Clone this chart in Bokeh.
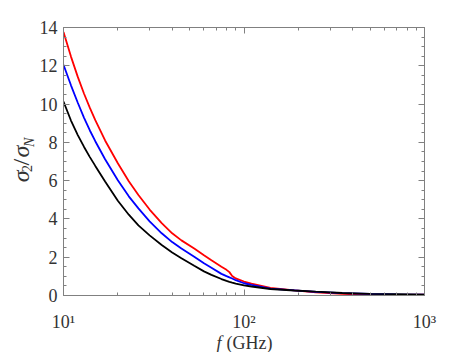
import math
from bokeh.plotting import figure
from bokeh.layouts import row, column
from bokeh.models import Range1d, FixedTicker, LogAxis, LinearAxis, SingleIntervalTicker
from bokeh.core.properties import value
from bokeh.embed import file_html
from bokeh.resources import INLINE

# ---- data ----
freq_ghz = [10, 11, 12, 13, 14, 15, 17, 20, 23, 26, 30, 35, 40, 45, 53, 60, 66, 75, 80, 83,
            86, 90, 100, 110, 140, 190, 250, 350, 500, 700, 1000]
ratio_red = [13.76, 12.48, 11.42, 10.54, 9.80, 9.16, 8.10, 6.91, 5.97, 5.25, 4.49, 3.78, 3.25, 2.88,
             2.45, 2.10, 1.84, 1.50, 1.34, 1.22, 1.02, 0.89, 0.73, 0.62, 0.40, 0.27, 0.17, 0.08,
             0.04, 0.03, 0.04]
ratio_blue = [12.05, 10.98, 10.07, 9.28, 8.62, 8.06, 7.12, 6.02, 5.18, 4.55, 3.87, 3.25, 2.79, 2.45,
              2.03, 1.68, 1.45, 1.13, 1.01, 0.95, 0.89, 0.80, 0.64, 0.55, 0.36, 0.27, 0.19, 0.12,
              0.08, 0.06, 0.05]
ratio_black = [10.13, 9.14, 8.38, 7.76, 7.23, 6.77, 5.96, 4.95, 4.22, 3.66, 3.14, 2.64, 2.25, 1.95,
               1.55, 1.26, 1.08, 0.86, 0.76, 0.71, 0.67, 0.62, 0.53, 0.47, 0.34, 0.26, 0.20, 0.13,
               0.09, 0.07, 0.05]

x_major = [10, 100, 1000]
x_minor = [20, 30, 40, 50, 60, 70, 80, 90, 200, 300, 400, 500, 600, 700, 800, 900]
x_tick_labels = ["10\u00b9", "10\u00b2", "10\u00b3"]
y_min, y_max, y_step = 0, 14, 2

# y-axis title pieces (sigma_2 / sigma_N) and x-axis title pieces
ytitle_parts = ["\u03c3", "2", "/", "\u03c3", "N"]
xtitle_parts = ["f", "(GHz)"]

AX = "#808080"
TXT = "#333333"
FONT = "'Liberation Serif', serif"
FONT_NAME = "Liberation Serif"

W, H = 469, 352
YLAB_W = 36
XLAB_H = 18
MAIN_W, MAIN_H = W - YLAB_W, H - XLAB_H

p = figure(width=MAIN_W, height=MAIN_H, x_axis_type="log",
           x_range=Range1d(10, 1000), y_range=Range1d(y_min, y_max),
           output_backend="svg", toolbar_location=None,
           min_border_left=61 - YLAB_W, min_border_right=45, min_border_top=27,
           min_border_bottom=MAIN_H - 295)
p.outline_line_color = None
p.xgrid.grid_line_color = None
p.ygrid.grid_line_color = None
p.background_fill_color = "white"
p.border_fill_color = "white"


def style(ax, show_labels=True):
    ax.axis_line_color = AX
    ax.axis_line_width = 1
    ax.major_tick_line_color = AX
    ax.minor_tick_line_color = AX
    ax.major_tick_in = 6
    ax.major_tick_out = 0
    ax.minor_tick_in = 3
    ax.minor_tick_out = 0
    ax.major_label_text_font = FONT
    ax.major_label_text_color = TXT
    if show_labels:
        ax.major_label_text_font_size = "18px"
    else:
        ax.major_label_text_font_size = "1px"
        ax.major_label_text_alpha = 0


xb = p.xaxis[0]
xb.ticker = FixedTicker(ticks=x_major, minor_ticks=x_minor)
xb.major_label_overrides = {t: s for t, s in zip(x_major, x_tick_labels)}
style(xb)
xb.major_label_standoff = 16

yl = p.yaxis[0]
yl.ticker = SingleIntervalTicker(interval=y_step, num_minor_ticks=4)
style(yl)
yl.major_label_standoff = 6

xtop = LogAxis(ticker=FixedTicker(ticks=x_major, minor_ticks=x_minor))
style(xtop, False)
xtop.major_label_standoff = 0
p.add_layout(xtop, "above")

yr = LinearAxis(ticker=SingleIntervalTicker(interval=y_step, num_minor_ticks=4))
style(yr, False)
yr.major_label_standoff = 0
p.add_layout(yr, "right")

p.line(freq_ghz, ratio_red, line_color="#ff0000", line_width=1.8)
p.line(freq_ghz, ratio_blue, line_color="#0000ff", line_width=1.8)
p.line(freq_ghz, ratio_black, line_color="#000000", line_width=1.8)


def text_panel(w, h):
    f = figure(width=w, height=h, x_range=Range1d(0, w), y_range=Range1d(0, h),
               output_backend="svg", toolbar_location=None, title=None,
               x_axis_location=None, y_axis_location=None, min_border=0)
    f.outline_line_color = None
    f.grid.visible = False
    f.background_fill_color = "white"
    f.border_fill_color = "white"
    return f


# y title panel (left strip), coordinates in pixels of that strip
ylab = text_panel(YLAB_W, MAIN_H)
yx = [20.6, 26.7, 20.6, 20.6, 28.7]              # baselines (screen x)
yy = [MAIN_H - 193, MAIN_H - 180, MAIN_H - 172, MAIN_H - 162, MAIN_H - 149]
ysz = ["24px", "14px", "24px", "24px", "14px"]
yst = ["italic", "normal", "normal", "italic", "italic"]
for i in range(len(ytitle_parts)):
    ylab.text(x=[yx[i]], y=[yy[i]], text=[ytitle_parts[i]], angle=math.pi / 2,
              text_font=value(FONT_NAME), text_font_style=yst[i], text_font_size=ysz[i],
              text_color=TXT, text_align="left", text_baseline="alphabetic")

# x title panel (bottom strip)
xlab = text_panel(W, XLAB_H)
xx = [216, 226]
xst = ["italic", "normal"]
for i in range(len(xtitle_parts)):
    xlab.text(x=[xx[i]], y=[9.6], text=[xtitle_parts[i]],
              text_font=value(FONT_NAME), text_font_style=xst[i], text_font_size="18px",
              text_color=TXT, text_align="left", text_baseline="alphabetic")

layout = column(row(ylab, p, spacing=0), xlab, spacing=0)
open("out.html", "w").write(file_html(layout, INLINE))
